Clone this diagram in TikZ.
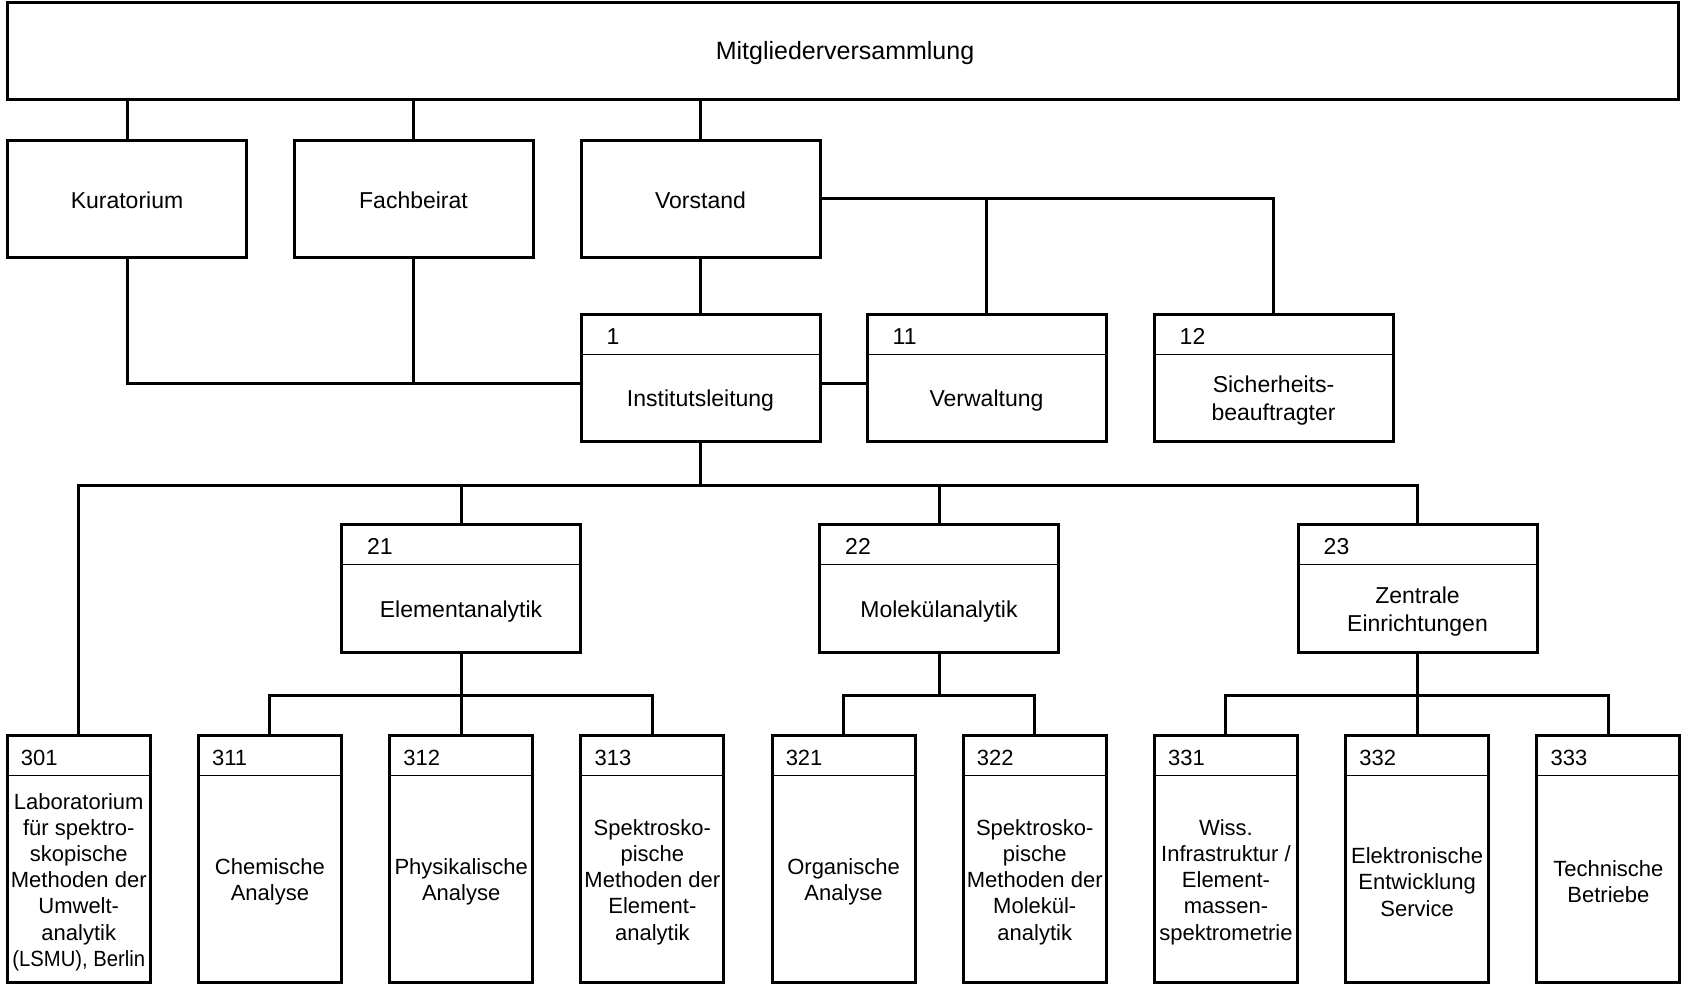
\documentclass[tikz,border=0pt]{standalone}
\usepackage{fontspec}
\setmainfont{Liberation Sans}
\usetikzlibrary{calc}
\tikzset{
  ubox/.style={draw, line width=3pt, rectangle, inner sep=0pt},
  wide/.style={minimum width=239pt},
  conn/.style={line width=3pt},
  divider/.style={line width=1pt},
  numlabel/.style={anchor=west, inner sep=0pt},
  bodytext/.style={align=center, inner sep=0pt},
  widefont/.style={font=\fontsize{23}{28}\selectfont},
  narrowfont/.style={font=\fontsize{22}{26.2}\selectfont},
  titlefont/.style={font=\fontsize{25}{30}\selectfont}
}
% name, cx, top, width, height, number, text, number offset, font style
\newcommand{\orgbox}[9]{%
  \node[ubox, minimum width=#4pt, minimum height=#5pt] (#1) at (#2,{#3+#5/2}) {};
  \draw[divider] ($(#1.north west)+(0,42)$) -- ($(#1.north east)+(0,42)$);
  \node[numlabel, #9] (#1n) at ($(#1.north west)+(#8,24)$) {#6};
  \node[bodytext, #9] (#1t) at ($(#1.north)+(0,{46+(#5-42)/2})$) {#7};
}
\begin{document}
\begin{tikzpicture}[x=1pt, y=-1pt, widefont]
\useasboundingbox (0,0) rectangle (1685,984);
% top
\node[ubox, titlefont, minimum width=1670.5pt, minimum height=97pt] (mv) at (842.75,51.5) {};
\node[titlefont, inner sep=0pt] (mvt) at (845,53.5) {Mitgliederversammlung};
% level 1
\node[ubox, wide, minimum height=116pt] (kur) at (127,199) {};
\node[inner sep=0pt] (kurt) at (127,200.5) {Kuratorium};
\node[ubox, wide, minimum height=116pt] (fach) at (413.5,199) {};
\node[inner sep=0pt] (facht) at (413.5,200.5) {Fachbeirat};
\node[ubox, wide, minimum height=116pt] (vor) at (700.5,199) {};
\node[inner sep=0pt] (vort) at (700.5,200.5) {Vorstand};
\orgbox{il}{700.5}{314}{239}{127}{1}{Institutsleitung}{27}{widefont}
\orgbox{vw}{986.5}{314}{239}{127}{11}{Verwaltung}{27}{widefont}
\orgbox{sb}{1273.5}{314}{239}{127}{12}{Sicherheits-\\beauftragter}{27}{widefont}
% level 2
\orgbox{e21}{461}{524}{239}{128}{21}{Elementanalytik}{27}{widefont}
\orgbox{e22}{939}{524}{239}{128}{22}{Molekülanalytik}{27}{widefont}
\orgbox{e23}{1417.5}{524}{239}{128}{23}{Zentrale\\Einrichtungen}{27}{widefont}
% level 3
\orgbox{b301}{78.75}{735}{143}{247}{301}{Laboratorium\\für spektro-\\skopische\\Methoden der\\Umwelt-\\analytik\\\scalebox{0.92}[1]{(LSMU), Berlin}}{15}{narrowfont}
\orgbox{b311}{269.95}{735}{143}{247}{311}{Chemische\\Analyse}{15}{narrowfont}
\orgbox{b312}{461.15}{735}{143}{247}{312}{Physikalische\\Analyse}{15}{narrowfont}
\orgbox{b313}{652.35}{735}{143}{247}{313}{Spektrosko-\\pische\\Methoden der\\Element-\\analytik}{15}{narrowfont}
\orgbox{b321}{843.55}{735}{143}{247}{321}{Organische\\Analyse}{15}{narrowfont}
\orgbox{b322}{1034.75}{735}{143}{247}{322}{Spektrosko-\\pische\\Methoden der\\Molekül-\\analytik}{15}{narrowfont}
\orgbox{b331}{1225.95}{735}{143}{247}{331}{Wiss.\\Infrastruktur /\\Element-\\massen-\\spektrometrie}{15}{narrowfont}
\orgbox{b332}{1417.15}{735}{143}{247}{332}{Elektronische\\Entwicklung\\Service}{15}{narrowfont}
\orgbox{b333}{1608.35}{735}{143}{247}{333}{Technische\\Betriebe}{15}{narrowfont}
% connectors
\draw[conn] (mv.south -| kur.north) -- (kur.north);
\draw[conn] (mv.south -| fach.north) -- (fach.north);
\draw[conn] (mv.south -| vor.north) -- (vor.north);
\draw[conn] (vor.south) -- (il.north);
\draw[conn] (vor.east) -| (sb.north);
\draw[conn] (vw.north) -- (vw.north |- vor.east);
\coordinate (lk) at (0,383);
\draw[conn] (kur.south) |- (il.west |- lk);
\draw[conn] (fach.south) -- (fach.south |- lk);
\draw[conn] (il.east |- lk) -- (vw.west |- lk);
\coordinate (busA) at (0,485);
\draw[conn] (il.south) -- (il.south |- busA);
\draw[conn] (b301.north) |- (busA -| e23.north) -- (e23.north);
\draw[conn] (e21.north) -- (e21.north |- busA);
\draw[conn] (e22.north) -- (e22.north |- busA);
\coordinate (busB) at (0,695);
\draw[conn] (e21.south) -- (e21.south |- busB);
\draw[conn] (b311.north) |- (busB -| b313.north) -- (b313.north);
\draw[conn] (b312.north) -- (b312.north |- busB);
\draw[conn] (e22.south) -- (e22.south |- busB);
\draw[conn] (b321.north) |- (busB -| b322.north) -- (b322.north);
\draw[conn] (e23.south) -- (e23.south |- busB);
\draw[conn] (b331.north) |- (busB -| b333.north) -- (b333.north);
\draw[conn] (b332.north) -- (b332.north |- busB);
\end{tikzpicture}
\end{document}
